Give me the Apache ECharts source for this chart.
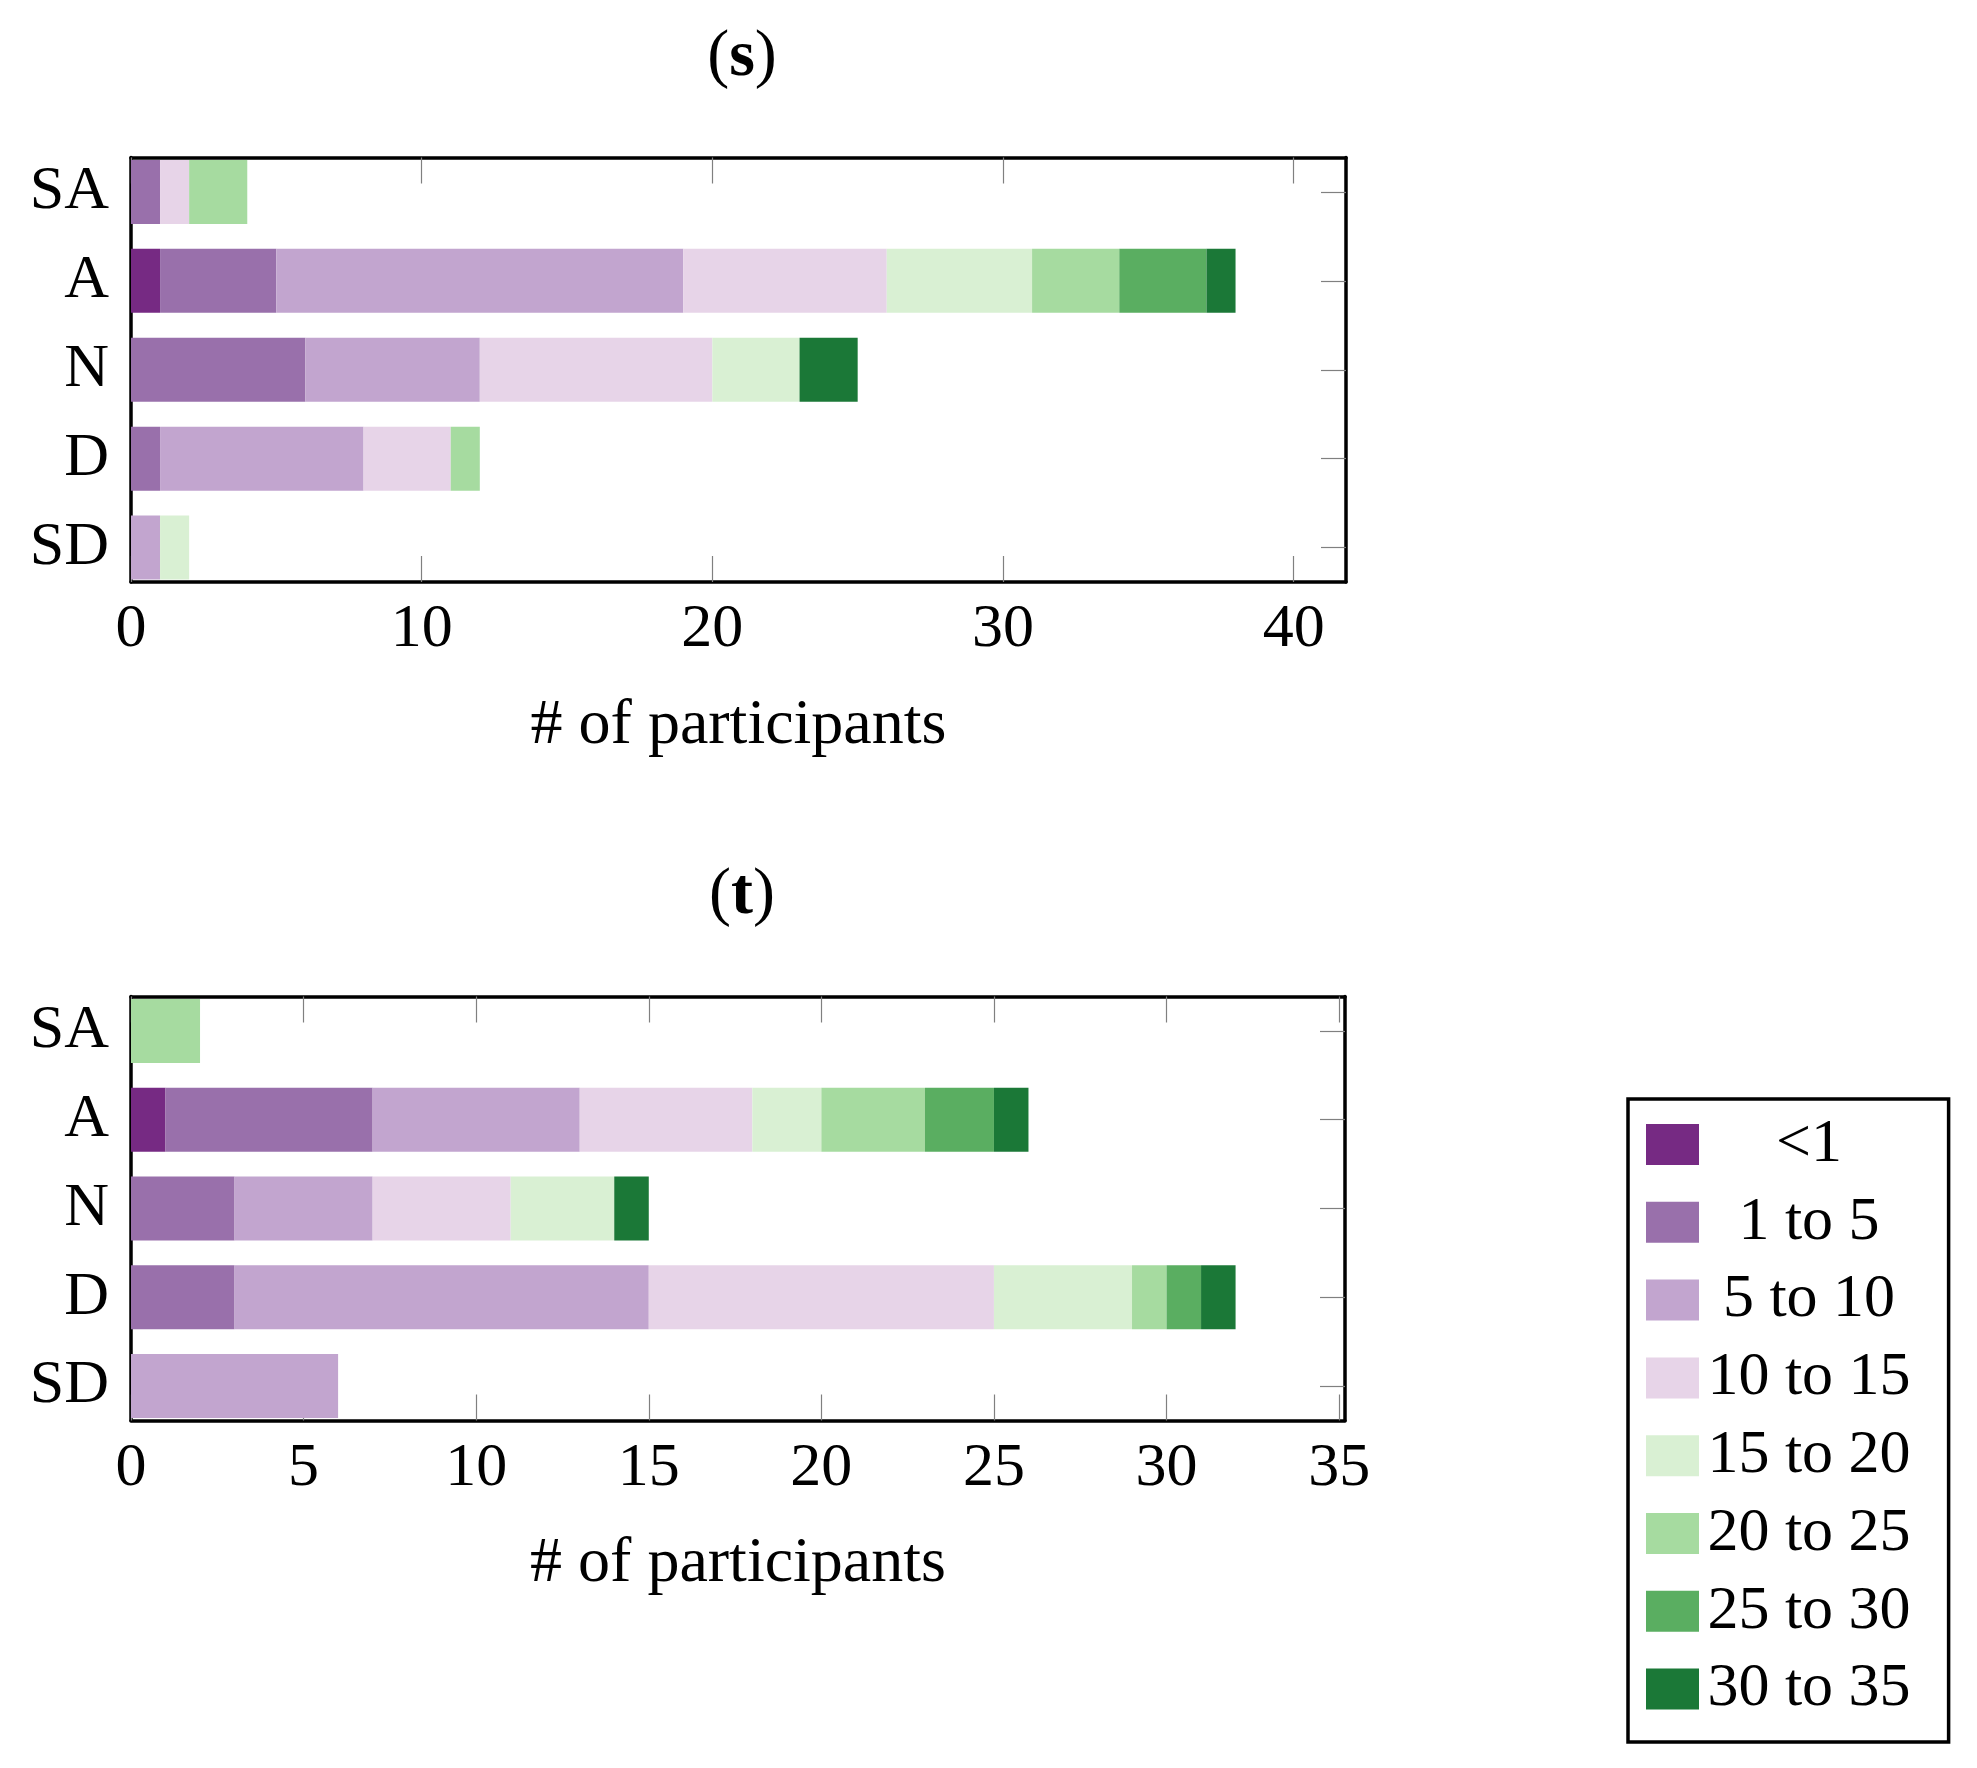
<!DOCTYPE html>
<html>
<head>
<meta charset="utf-8">
<script src="https://cdn.jsdelivr.net/npm/echarts@6/dist/echarts.min.js"></script>
<style>
  html, body { margin: 0; padding: 0; background: #fff; }
  #main { width: 1977px; height: 1768px; }
</style>
</head>
<body>
<div id="main"></div>
<script>
// categories from bottom to top
var categories = ['SD', 'D', 'N', 'A', 'SA']
var groups = ['<1', '1 to 5', '5 to 10', '10 to 15', '15 to 20', '20 to 25', '25 to 30', '30 to 35']
var colors = ['#762a83', '#9970ab', '#c2a5cf', '#e7d4e8', '#d9f0d3', '#a6dba0', '#5aae61', '#1b7837']

// panel (s): participants per group, order SD, D, N, A, SA
var sLt1 = [0, 0, 0, 1, 0]
var s1to5 = [0, 1, 6, 4, 1]
var s5to10 = [1, 7, 6, 14, 0]
var s10to15 = [0, 3, 8, 7, 1]
var s15to20 = [1, 0, 3, 5, 0]
var s20to25 = [0, 1, 0, 3, 2]
var s25to30 = [0, 0, 0, 3, 0]
var s30to35 = [0, 0, 2, 1, 0]

// panel (t)
var tLt1 = [0, 0, 0, 1, 0]
var t1to5 = [0, 3, 3, 6, 0]
var t5to10 = [6, 12, 4, 6, 0]
var t10to15 = [0, 10, 4, 5, 0]
var t15to20 = [0, 4, 3, 2, 0]
var t20to25 = [0, 1, 0, 3, 2]
var t25to30 = [0, 1, 0, 2, 0]
var t30to35 = [0, 1, 1, 1, 0]

var sTicks = [0, 10, 20, 30, 40]
var tTicks = [0, 5, 10, 15, 20, 25, 30, 35]
var catTicks = [0, 1, 2, 3, 4]

var font = 'Liberation Serif'
var halfBar = 0.36

function renderBar (params, api) {
  var x0 = api.value(0)
  var x1 = api.value(1)
  var c = api.value(2)
  if (x1 <= x0) return
  var p0 = api.coord([x0, c + halfBar])
  var p1 = api.coord([x1, c - halfBar])
  return {
    type: 'rect',
    shape: { x: p0[0], y: p0[1], width: p1[0] - p0[0], height: p1[1] - p0[1] },
    style: api.style()
  }
}

// turn the count arrays of one panel into stacked [start, end, category] items
function stackSeries (rows, axisIndex) {
  var acc = categories.map(function () { return 0 })
  return rows.map(function (row, g) {
    var data = row.map(function (v, c) {
      var start = acc[c]
      acc[c] += v
      return [start, acc[c], c]
    })
    return {
      name: groups[g],
      type: 'custom',
      renderItem: renderBar,
      xAxisIndex: axisIndex,
      yAxisIndex: axisIndex,
      itemStyle: { color: colors[g] },
      encode: { x: [0, 1], y: 2 },
      data: data
    }
  })
}

function xAxes (grid, max, ticks) {
  var base = {
    gridIndex: grid,
    type: 'value',
    min: 0,
    max: max,
    splitLine: { show: false },
    axisLine: { show: true, onZero: false, lineStyle: { color: '#000', width: 3.5 } },
    axisTick: { show: true, inside: true, length: 26, customValues: ticks, lineStyle: { color: '#808080', width: 1.2 } }
  }
  var bottom = Object.assign({}, base, {
    position: 'bottom',
    axisLabel: { customValues: ticks, margin: 17, fontSize: 62, fontFamily: font, color: '#000' },
    name: '# of participants',
    nameLocation: 'middle',
    nameGap: 112,
    nameTextStyle: { fontSize: 64, fontFamily: font, color: '#000' }
  })
  var top = Object.assign({}, base, { position: 'top', axisLabel: { show: false } })
  return [bottom, top]
}

function yAxes (grid) {
  var base = {
    gridIndex: grid,
    type: 'value',
    min: -0.388,
    max: 4.388,
    splitLine: { show: false },
    axisLine: { show: true, onZero: false, lineStyle: { color: '#000', width: 3.5 } }
  }
  var left = Object.assign({}, base, {
    position: 'left',
    axisTick: { show: false },
    axisLabel: {
      customValues: catTicks,
      margin: 22,
      fontSize: 62,
      fontFamily: font,
      color: '#000',
      formatter: function (v) { return categories[Math.round(v)] }
    }
  })
  var right = Object.assign({}, base, {
    position: 'right',
    axisTick: { show: true, inside: true, length: 25, customValues: catTicks, lineStyle: { color: '#808080', width: 1.2 } },
    axisLabel: { show: false }
  })
  return [left, right]
}

function titleFor (letter, y) {
  return {
    text: '{n|(}{b|' + letter + '}{n|)}',
    left: 737,
    top: y,
    textAlign: 'center',
    textStyle: {
      rich: {
        n: { fontSize: 66, fontFamily: font, fontWeight: 'normal', color: '#000' },
        b: { fontSize: 66, fontFamily: font, fontWeight: 'bold', color: '#000' }
      }
    }
  }
}

var sRows = [sLt1, s1to5, s5to10, s10to15, s15to20, s20to25, s25to30, s30to35]
var tRows = [tLt1, t1to5, t5to10, t10to15, t15to20, t20to25, t25to30, t30to35]

var xs = xAxes(0, 41.8, sTicks).concat(xAxes(1, 35.17, tTicks))
var ys = yAxes(0).concat(yAxes(1))
// second axis of each pair belongs to the same grid, series use the first one
var seriesS = stackSeries(sRows, 0)
var seriesT = stackSeries(tRows, 2)

var option = {
  animation: false,
  backgroundColor: '#fff',
  title: [titleFor('s', 20), titleFor('t', 858)],
  grid: [
    { left: 131, top: 157.5, width: 1215, height: 424.5 },
    { left: 131, top: 996.5, width: 1214, height: 424 }
  ],
  xAxis: xs,
  yAxis: ys,
  legend: {
    orient: 'vertical',
    left: 1628,
    top: 1099,
    icon: 'rect',
    itemWidth: 53,
    itemHeight: 41,
    itemGap: 15.8,
    padding: [14.5, 38, 22, 18],
    borderColor: '#000',
    borderWidth: 3.5,
    data: groups,
    formatter: function (name) { return '{c|' + name + '}' },
    textStyle: {
      rich: {
        c: { width: 210, align: 'center', fontSize: 62, fontFamily: font, color: '#000' }
      }
    }
  },
  series: seriesS.concat(seriesT)
}

var myChart = echarts.init(document.getElementById('main'))
myChart.setOption(option)
</script>
</body>
</html>
